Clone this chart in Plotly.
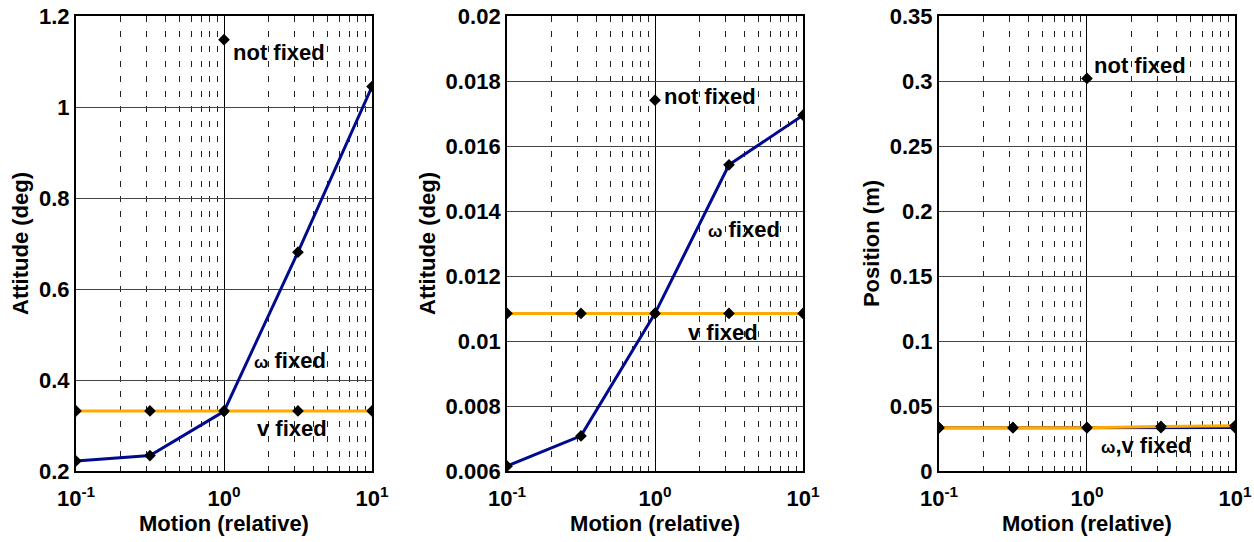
import plotly.graph_objects as go
from plotly.subplots import make_subplots

motion = [0.1, 0.316, 1.0, 3.16, 10.0]

# Panel 1: attitude (deg)
att1_omega_fixed = [0.222, 0.234, 0.331, 0.681, 1.045]
att1_v_fixed = [0.332, 0.332, 0.332, 0.332, 0.332]
att1_not_fixed = 1.148

# Panel 2: attitude (deg)
att2_omega_fixed = [0.00615, 0.00708, 0.01085, 0.01542, 0.01695]
att2_v_fixed = [0.01085, 0.01085, 0.01085, 0.01085, 0.01085]
att2_not_fixed = 0.01741

# Panel 3: position (m)
pos_omega_fixed = [0.0333, 0.0333, 0.0333, 0.0333, 0.0334]
pos_v_fixed = [0.0333, 0.0333, 0.0333, 0.0343, 0.0348]
pos_not_fixed = 0.302

x_tickvals = [0.1, 1, 10]
x_ticktext = ["10<sup>-1</sup>", "10<sup>0</sup>", "10<sup>1</sup>"]
y1_ticks = [0.2, 0.4, 0.6, 0.8, 1.0, 1.2]
y1_text = ["0.2", "0.4", "0.6", "0.8", "1", "1.2"]
y2_ticks = [0.006, 0.008, 0.010, 0.012, 0.014, 0.016, 0.018, 0.020]
y2_text = ["0.006", "0.008", "0.01", "0.012", "0.014", "0.016", "0.018", "0.02"]
y3_ticks = [0, 0.05, 0.1, 0.15, 0.2, 0.25, 0.3, 0.35]
y3_text = ["0", "0.05", "0.1", "0.15", "0.2", "0.25", "0.3", "0.35"]

BLUE = "#000a8c"
ORANGE = "#ffaa00"
FONT = "Liberation Sans, Arial, sans-serif"

fig = make_subplots(rows=1, cols=3, horizontal_spacing=0.1)

def add_panel(col, omega, vfix, notfix):
    fig.add_trace(go.Scatter(x=motion, y=omega, mode="lines+markers",
                             line=dict(color=BLUE, width=3),
                             marker=dict(symbol="diamond", size=9, color="black"),
                             showlegend=False, hoverinfo="skip"), row=1, col=col)
    fig.add_trace(go.Scatter(x=motion, y=vfix, mode="lines+markers",
                             line=dict(color=ORANGE, width=3),
                             marker=dict(symbol="diamond", size=9, color="black"),
                             showlegend=False, hoverinfo="skip"), row=1, col=col)
    fig.add_trace(go.Scatter(x=[1.0], y=[notfix], mode="markers",
                             marker=dict(symbol="diamond", size=9, color="black"),
                             showlegend=False, hoverinfo="skip"), row=1, col=col)

add_panel(1, att1_omega_fixed, att1_v_fixed, att1_not_fixed)
add_panel(2, att2_omega_fixed, att2_v_fixed, att2_not_fixed)
add_panel(3, pos_omega_fixed, pos_v_fixed, pos_not_fixed)

domains = [[0.0, 0.2554], [0.3719, 0.6273], [0.7446, 1.0]]
yspecs = [(y1_ticks, y1_text, [0.2, 1.2], "Attitude (deg)"),
          (y2_ticks, y2_text, [0.006, 0.02], "Attitude (deg)"),
          (y3_ticks, y3_text, [0, 0.35], "Position (m)")]

tickfont = dict(family=FONT, size=22, color="black", weight="bold")
titlefont = dict(family=FONT, size=22, color="black", weight="bold")

for i in range(3):
    xa = "xaxis" if i == 0 else f"xaxis{i+1}"
    ya = "yaxis" if i == 0 else f"yaxis{i+1}"
    fig.layout[xa].update(
        type="log", range=[-1, 1], domain=domains[i],
        tickvals=x_tickvals, ticktext=x_ticktext, ticks="",
        ticklabelstandoff=7,
        showgrid=True, gridcolor="black", gridwidth=1,
        minor=dict(dtick="D1", showgrid=True, gridcolor="#222222",
                   griddash="6px,9px", gridwidth=1, ticks=""),
        showline=True, linecolor="black", linewidth=2, mirror=True,
        zeroline=False, tickfont=tickfont,
        title=dict(text="Motion (relative)", font=titlefont, standoff=2),
    )
    ticks, text, rng, title = yspecs[i]
    fig.layout[ya].update(
        range=rng, tickvals=ticks, ticktext=text, ticks="",
        showgrid=True, gridcolor="#444444", gridwidth=1,
        showline=True, linecolor="black", linewidth=2, mirror=True,
        zeroline=False, tickfont=tickfont,
        title=dict(text=title, font=titlefont, standoff=4),
    )

annfont = dict(family=FONT, size=22, color="black", weight="bold")
OM = "<span style='font-size:17px'>ω</span>"
anns = [
    ("x", "y", 0.045, 1.119, "not fixed"),
    ("x", "y", 0.187, 0.442, OM + " fixed"),
    ("x", "y", 0.21, 0.294, "v fixed"),
    ("x2", "y2", 0.048, 0.01752, "not fixed"),
    ("x2", "y2", 0.347, 0.01343, OM + " fixed"),
    ("x2", "y2", 0.206, 0.01027, "v fixed"),
    ("x3", "y3", 0.036, 0.3118, "not fixed"),
    ("x3", "y3", 0.083, 0.020, OM + ",v fixed"),
]
for xr, yr, x, y, t in anns:
    fig.add_annotation(x=x, y=y, xref=xr, yref=yr, text=t, showarrow=False,
                       xanchor="left", yanchor="middle", font=annfont)

fig.update_layout(
    width=1254, height=542,
    margin=dict(l=76, r=19, t=16, b=71, autoexpand=False),
    paper_bgcolor="white", plot_bgcolor="white",
    font=dict(family=FONT, color="black"),
)

fig.write_html("out.html")
